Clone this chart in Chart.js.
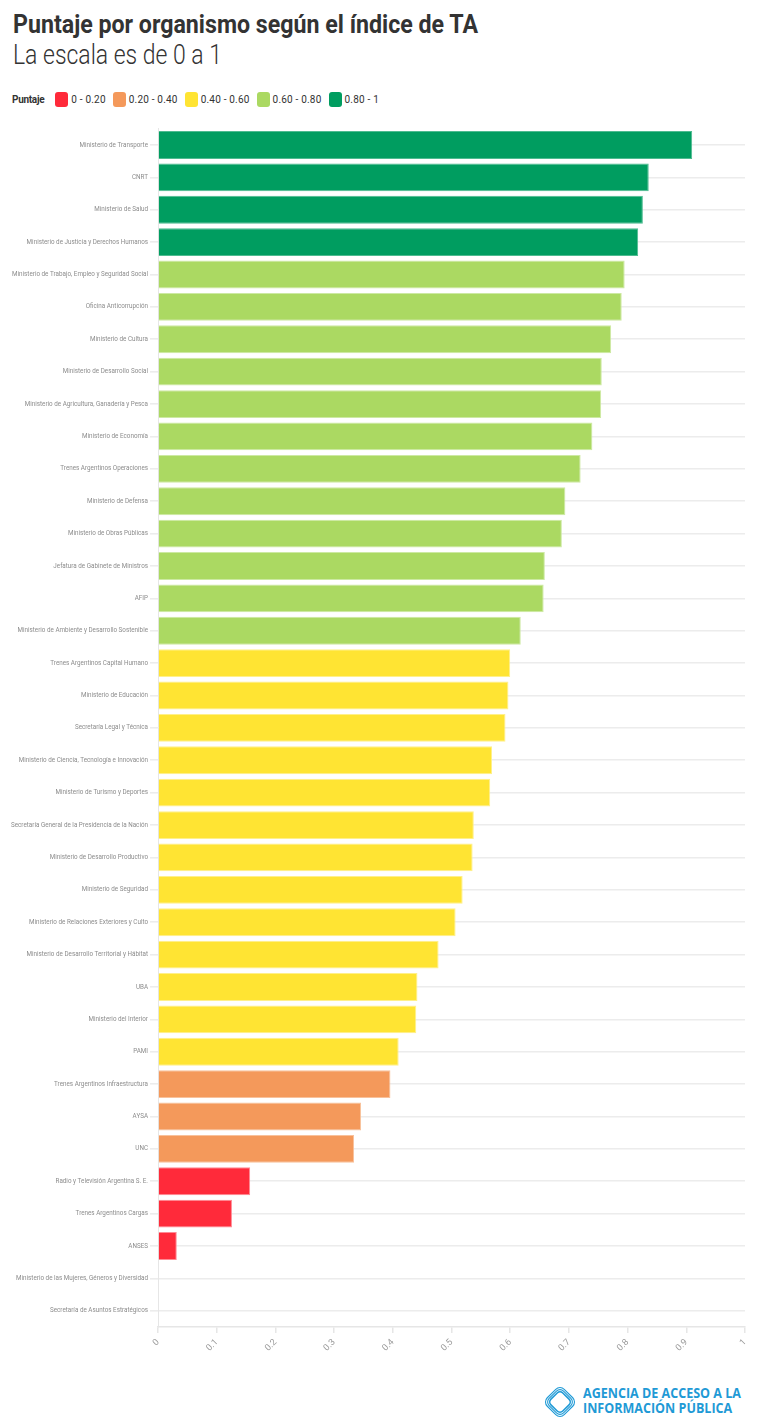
<!DOCTYPE html>
<html lang="es">
<head>
<meta charset="utf-8">
<script src="https://cdn.jsdelivr.net/npm/chart.js@4.4.1/dist/chart.umd.min.js"></script>
<style>
  html, body { margin: 0; padding: 0; background: #fff; }
  body { width: 764px; height: 1421px; position: relative; overflow: hidden; font-family: Roboto, "DejaVu Sans", sans-serif; }
  .fit { position: absolute; white-space: nowrap; transform-origin: 0 0; }
  #title { left: 13px; top: 9px; font-size: 26px; font-weight: 700; color: #333; }
  #subtitle { left: 13px; top: 39px; font-size: 27px; font-weight: 300; color: #333; }
  #legend { position: absolute; left: 12px; top: 91px; height: 16px; display: flex; align-items: center; font-size: 10px; color: #333; }
  #legend .head { font-weight: 700; margin-right: 11px; letter-spacing: -0.3px; }
  #legend .sw { width: 13px; height: 15px; border-radius: 3px; margin-right: 3px; }
  #legend .lb { margin-right: 7px; letter-spacing: 0.2px; }
  #wrap { position: absolute; left: 0; top: 118px; width: 764px; height: 1252px; }
  #logo { position: absolute; left: 542px; top: 1384px; width: 36px; height: 36px; }
  #agency { left: 583px; top: 1386px; font-family: "Open Sans", Roboto, sans-serif; font-weight: 700; font-size: 13.5px; line-height: 15px; color: #1f9ad6; }
</style>
</head>
<body>
<div id="title" class="fit" data-w="465">Puntaje por organismo según el índice de TA</div>
<div id="subtitle" class="fit" data-w="209">La escala es de 0 a 1</div>
<div id="legend"></div>
<div id="wrap"><canvas id="chart"></canvas></div>
<svg id="logo" viewBox="0 0 36 36">
  <g fill="none" stroke="#1f9ad6" transform="rotate(45 18 18)">
    <rect x="6" y="6" width="24" height="24" rx="6" stroke-width="1.1"/>
    <rect x="7.8" y="7.8" width="20.4" height="20.4" rx="5" stroke-width="1.1"/>
    <rect x="9.6" y="9.6" width="16.8" height="16.8" rx="4" stroke-width="1.6"/>
  </g>
</svg>
<div id="agency" class="fit" data-w="158">AGENCIA DE ACCESO A LA<br>INFORMACIÓN PÚBLICA</div>
<script>
const organismos = [
  'Ministerio de Transporte',
  'CNRT',
  'Ministerio de Salud',
  'Ministerio de Justicia y Derechos Humanos',
  'Ministerio de Trabajo, Empleo y Seguridad Social',
  'Oficina Anticorrupción',
  'Ministerio de Cultura',
  'Ministerio de Desarrollo Social',
  'Ministerio de Agricultura, Ganadería y Pesca',
  'Ministerio de Economía',
  'Trenes Argentinos Operaciones',
  'Ministerio de Defensa',
  'Ministerio de Obras Públicas',
  'Jefatura de Gabinete de Ministros',
  'AFIP',
  'Ministerio de Ambiente y Desarrollo Sostenible',
  'Trenes Argentinos Capital Humano',
  'Ministerio de Educación',
  'Secretaría Legal y Técnica',
  'Ministerio de Ciencia, Tecnología e Innovación',
  'Ministerio de Turismo y Deportes',
  'Secretaría General de la Presidencia de la Nación',
  'Ministerio de Desarrollo Productivo',
  'Ministerio de Seguridad',
  'Ministerio de Relaciones Exteriores y Culto',
  'Ministerio de Desarrollo Territorial y Hábitat',
  'UBA',
  'Ministerio del Interior',
  'PAMI',
  'Trenes Argentinos Infraestructura',
  'AYSA',
  'UNC',
  'Radio y Televisión Argentina S. E.',
  'Trenes Argentinos Cargas',
  'ANSES',
  'Ministerio de las Mujeres, Géneros y Diversidad',
  'Secretaría de Asuntos Estratégicos'
];
const puntajes = [
  0.910, 0.836, 0.826, 0.818, 0.795, 0.790, 0.772, 0.756, 0.755, 0.740,
  0.720, 0.694, 0.688, 0.659, 0.657, 0.618, 0.600, 0.597, 0.592, 0.569,
  0.566, 0.538, 0.536, 0.519, 0.507, 0.478, 0.442, 0.440, 0.410, 0.396,
  0.346, 0.334, 0.157, 0.126, 0.032, 0, 0
];
const rangos = ['0 - 0.20', '0.20 - 0.40', '0.40 - 0.60', '0.60 - 0.80', '0.80 - 1'];
const limites = [0.2, 0.4, 0.6, 0.8, 1];
const colores = ['#ff2a3a', '#f4995b', '#ffe433', '#abd962', '#009d60'];
const bordes = ['#ff8a94', '#f8c19b', '#fff08a', '#cde9a3', '#4dbb90'];

function rango(v) {
  for (let i = 0; i < limites.length; i++) if (v <= limites[i]) return i;
  return limites.length - 1;
}

// leyenda
const legend = document.getElementById('legend');
legend.innerHTML = '<span class="head">Puntaje</span>' + rangos.map((r, i) =>
  `<span class="sw" style="background:${colores[i]}"></span><span class="lb">${r}</span>`).join('');

// texto condensado
document.querySelectorAll('.fit').forEach(el => {
  const w = el.getBoundingClientRect().width;
  el.style.transform = `scaleX(${el.dataset.w / w})`;
});

const ctx = document.getElementById('chart').getContext('2d');
new Chart(ctx, {
  type: 'bar',
  data: {
    labels: organismos,
    datasets: [{
      data: puntajes,
      backgroundColor: puntajes.map(v => colores[rango(v)]),
      borderColor: puntajes.map(v => bordes[rango(v)]),
      borderWidth: 1,
      barPercentage: 0.86,
      categoryPercentage: 1
    }]
  },
  options: {
    indexAxis: 'y',
    responsive: true,
    maintainAspectRatio: false,
    animation: false,
    layout: { padding: { top: 10.8, right: 19, left: 0, bottom: 0 } },
    plugins: { legend: { display: false }, tooltip: { enabled: false } },
    scales: {
      x: {
        type: 'linear', min: 0, max: 1,
        afterFit: s => { s.height = 43; },
        ticks: {
          stepSize: 0.1, maxRotation: 45, minRotation: 45, color: '#9a9a9a',
          font: { family: 'Roboto', size: 9 }, padding: 4,
          callback: v => String(Math.round(v * 10) / 10)
        },
        grid: { drawOnChartArea: false, drawTicks: true, tickLength: 6, color: '#e6e6e6', lineWidth: 1.5 },
        border: { color: '#e6e6e6', width: 1.5 }
      },
      y: {
        afterFit: s => { s.width = 158; },
        ticks: { autoSkip: false, color: '#8c8c8c', font: { family: 'Roboto', size: 6.3 }, padding: 2 },
        grid: { offset: false, color: '#ececec', lineWidth: 1.6, tickLength: 8 },
        border: { color: '#e6e6e6', width: 1 }
      }
    }
  }
});
</script>
</body>
</html>
